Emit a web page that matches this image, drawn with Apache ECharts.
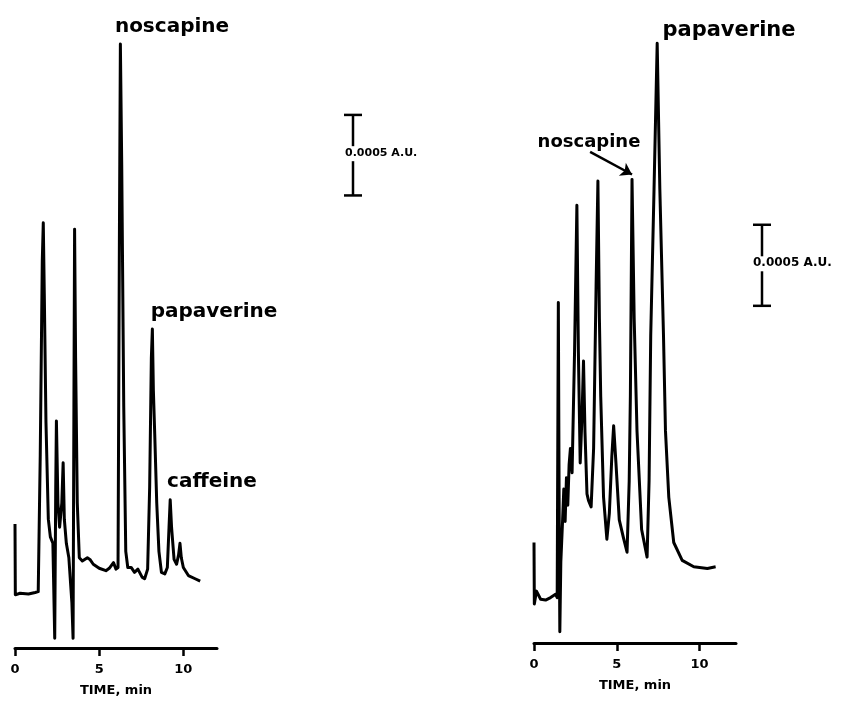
<!DOCTYPE html>
<html>
<head>
<meta charset="utf-8">
<script src="https://cdn.jsdelivr.net/npm/echarts@6/dist/echarts.min.js"></script>
<style>
  html, body { margin: 0; padding: 0; background: #fff; }
  #container { width: 844px; height: 702px; }
</style>
</head>
<body>
<div id="container"></div>
<script>
// chromatogram A (left): retention time in min, absorbance in 1e-4 A.U.
const leftTime = [0.00, 0.02, 0.30, 0.80, 1.20, 1.38, 1.50, 1.62, 1.68, 1.74, 1.84, 1.98, 2.10, 2.25, 2.36, 2.42, 2.46,
  2.55, 2.65, 2.78, 2.86, 2.93, 3.05, 3.20, 3.38, 3.45, 3.50, 3.54, 3.60, 3.70, 3.82, 4.00, 4.30, 4.45, 4.65,
  5.00, 5.40, 5.60, 5.85, 6.00, 6.12, 6.20, 6.26, 6.34, 6.46, 6.58, 6.70, 6.90, 7.10, 7.30, 7.55, 7.70, 7.88,
  8.00, 8.10, 8.16, 8.22, 8.30, 8.42, 8.55, 8.70, 8.90, 9.05, 9.15, 9.22, 9.30, 9.45, 9.60, 9.72, 9.80, 9.88,
  10.0, 10.3, 10.7, 11.0];
const leftAbs = [7.7, 3.3, 3.4, 3.35, 3.45, 3.5, 12, 24, 26.4, 22, 14, 8, 6.9, 6.5, 0.6, 10, 14.1,
  9, 7.5, 9, 11.5, 8, 6.5, 5.6, 2.8, 0.6, 15, 26.0, 18, 9, 5.6, 5.4, 5.6, 5.5, 5.2,
  4.95, 4.8, 4.95, 5.3, 4.9, 5.0, 25, 37.5, 30, 15, 6, 5.0, 5.0, 4.7, 4.9, 4.4, 4.3, 4.9,
  10, 18, 19.8, 16, 13.3, 9, 6, 4.7, 4.6, 5.0, 7.5, 9.2, 7.5, 5.5, 5.2, 5.8, 6.5, 5.6,
  5.0, 4.5, 4.3, 4.15];

// chromatogram B (right)
const rightTime = [0.00, 0.02, 0.15, 0.40, 0.70, 1.00, 1.30, 1.40, 1.47, 1.52, 1.56, 1.62, 1.72, 1.80, 1.88,
  1.96, 2.04, 2.12, 2.20, 2.30, 2.45, 2.59, 2.68, 2.79, 2.90, 2.99, 3.08, 3.20, 3.29, 3.45, 3.60, 3.75,
  3.86, 3.95, 4.03, 4.20, 4.40, 4.55, 4.70, 4.81, 4.95, 5.15, 5.40, 5.62, 5.75, 5.82, 5.92, 6.05, 6.22,
  6.50, 6.83, 6.95, 7.05, 7.25, 7.44, 7.60, 7.82, 7.94, 8.14, 8.44, 8.95, 9.65, 10.47, 10.97];
const rightAbs = [6.2, 2.4, 3.2, 2.7, 2.65, 2.8, 3.0, 2.8, 21.0, 8, 0.7, 5, 7.4, 9.5, 7.5,
  10.2, 8.5, 11.0, 12.0, 10.5, 18, 27.0, 18, 11.1, 14, 17.4, 13, 9.2, 8.8, 8.4, 12, 22,
  28.5, 20, 15.2, 9, 6.4, 8, 11.5, 13.4, 11.1, 7.6, 6.5, 5.6, 10, 15.2, 28.6, 20, 13.1,
  7.0, 5.3, 10, 19, 28, 37.0, 28, 19, 13.1, 9.0, 6.2, 5.1, 4.7, 4.6, 4.7];

const timeTicks = [0, 5, 10];
const scaleBarAU = 5;          // 0.0005 A.U. in 1e-4 A.U.
const leftBarFrom = 28.1;
const rightBarFrom = 20.8;
const arrowFrom = [3.39, 30.3];
const arrowTo = [5.92, 28.9];

const ink = '#000';
const font = 'DejaVu Sans';

const dom = document.getElementById('container');
const myChart = echarts.init(dom, null, { renderer: 'canvas' });

function zip(xs, ys) {
  return xs.map((x, i) => [x, ys[i]]);
}

function timeAxis(gridIndex, max) {
  return {
    type: 'value',
    gridIndex: gridIndex,
    min: 0,
    max: max,
    name: 'TIME, min',
    nameLocation: 'middle',
    nameGap: 36,
    nameTextStyle: { fontFamily: font, fontWeight: 'bold', fontSize: 13, color: ink },
    axisLine: { lineStyle: { color: ink, width: 3 } },
    axisTick: { customValues: timeTicks, length: 8, lineStyle: { color: ink, width: 2.5 } },
    axisLabel: { customValues: timeTicks, margin: 15, fontFamily: font, fontWeight: 'bold', fontSize: 13, color: ink },
    splitLine: { show: false },
  };
}

function absAxis(gridIndex) {
  return { type: 'value', gridIndex: gridIndex, min: 0, max: 38, show: false, splitLine: { show: false } };
}

const traceStyle = { color: ink, width: 3, join: 'round' };

const option = {
  animation: false,
  backgroundColor: '#fff',
  grid: [
    { left: 15, width: 202, top: 36, bottom: 50 },
    { left: 534, width: 202, top: 27, bottom: 59 },
  ],
  xAxis: [timeAxis(0, 12), timeAxis(1, 12.2)],
  yAxis: [absAxis(0), absAxis(1)],
  series: [
    {
      type: 'line',
      xAxisIndex: 0,
      yAxisIndex: 0,
      data: zip(leftTime, leftAbs),
      showSymbol: false,
      clip: false,
      lineStyle: traceStyle,
    },
    {
      type: 'line',
      xAxisIndex: 1,
      yAxisIndex: 1,
      data: zip(rightTime, rightAbs),
      showSymbol: false,
      clip: false,
      lineStyle: traceStyle,
      markLine: {
        silent: true,
        symbol: ['none', 'arrow'],
        symbolSize: 11,
        label: { show: false },
        lineStyle: { color: ink, width: 2.5, type: 'solid' },
        data: [[{ coord: arrowFrom }, { coord: arrowTo }]],
      },
    },
  ],
};

myChart.setOption(option);

function label(text, x, y, size) {
  return {
    type: 'text',
    x: x,
    y: y,
    style: {
      text: text,
      align: 'center',
      verticalAlign: 'middle',
      fontFamily: font,
      fontWeight: 'bold',
      fontSize: size,
      fill: ink,
    },
  };
}

// scale bar, its height is 0.0005 A.U. on the chart's own y scale
function scaleBar(yAxisIndex, x, from, textX, textSize) {
  const yBot = myChart.convertToPixel({ yAxisIndex: yAxisIndex }, from);
  const yTop = myChart.convertToPixel({ yAxisIndex: yAxisIndex }, from + scaleBarAU);
  const mid = (yTop + yBot) / 2 - 2;
  const st = { stroke: ink, lineWidth: 2.5 };
  return [
    { type: 'line', shape: { x1: x, y1: yTop, x2: x, y2: mid - 7 }, style: st },
    { type: 'line', shape: { x1: x, y1: mid + 8, x2: x, y2: yBot }, style: st },
    { type: 'line', shape: { x1: x - 9, y1: yTop, x2: x + 9, y2: yTop }, style: st },
    { type: 'line', shape: { x1: x - 9, y1: yBot, x2: x + 9, y2: yBot }, style: st },
    {
      type: 'text',
      x: textX,
      y: mid,
      style: {
        text: '0.0005 A.U.',
        align: 'left',
        verticalAlign: 'middle',
        fontFamily: font,
        fontWeight: 'bold',
        fontSize: textSize,
        fill: ink,
      },
    },
  ];
}

const graphics = [
  label('noscapine', 172, 27, 20),
  label('papaverine', 214, 312, 20),
  label('caffeine', 212, 482, 20),
  label('papaverine', 729, 31, 21),
  label('noscapine', 589, 142, 18),
]
  .concat(scaleBar(0, 353, leftBarFrom, 345, 11))
  .concat(scaleBar(1, 762, rightBarFrom, 753, 12));

myChart.setOption({ graphic: graphics });
</script>
</body>
</html>
